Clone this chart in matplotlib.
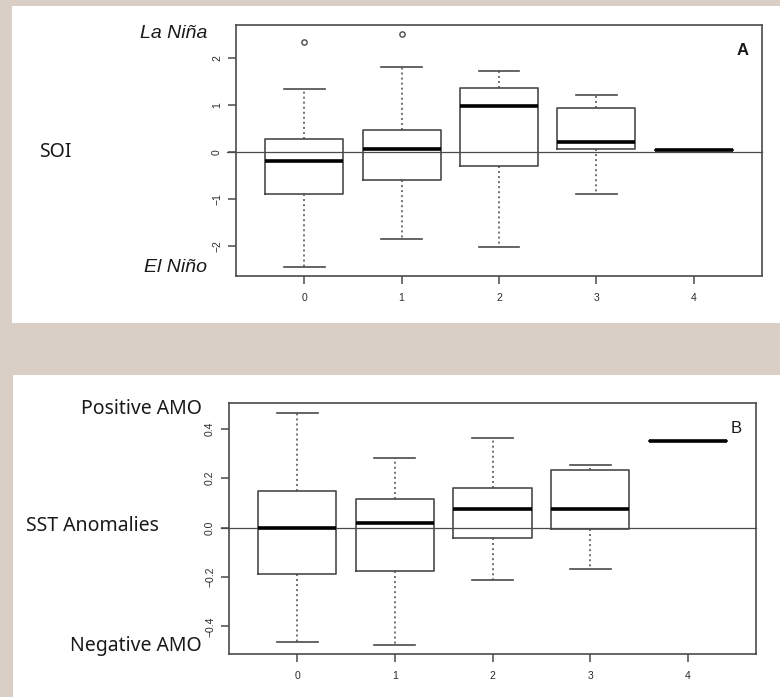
import numpy as np
import matplotlib
matplotlib.use("Agg")
import matplotlib.pyplot as plt
from matplotlib.patches import Rectangle

# Categories (x axis)
groups = [0, 1, 2, 3, 4]

# Panel A - SOI box statistics per group
soi_whislo = [-2.44, -1.85, -2.02, -0.89, 0.036]
soi_q1 = [-0.89, -0.60, -0.31, 0.057, 0.036]
soi_med = [-0.20, 0.064, 0.98, 0.21, 0.036]
soi_q3 = [0.28, 0.47, 1.35, 0.93, 0.036]
soi_whishi = [1.33, 1.81, 1.72, 1.21, 0.036]
soi_fliers = [[2.33], [2.50], [], [], []]
soi_yticks = [-2, -1, 0, 1, 2]
soi_yticklabels = ["\u22122", "\u22121", "0", "1", "2"]

# Panel B - SST anomalies (AMO) box statistics per group
sst_whislo = [-0.463, -0.476, -0.213, -0.168, 0.352]
sst_q1 = [-0.187, -0.175, -0.042, -0.005, 0.352]
sst_med = [0.0, 0.018, 0.074, 0.073, 0.352]
sst_q3 = [0.146, 0.115, 0.160, 0.234, 0.352]
sst_whishi = [0.464, 0.283, 0.362, 0.254, 0.352]
sst_fliers = [[], [], [], [], []]
sst_yticks = [-0.4, -0.2, 0.0, 0.2, 0.4]
sst_yticklabels = ["\u22120.4", "\u22120.2", "0.0", "0.2", "0.4"]

W, H = 780, 697
BG = "#d9cfc6"
LINE = "#4a4a4a"
TICKFONT = "Liberation Sans"


def fx(px):
    return px / W


def fy(py):
    return 1 - py / H


def make_stats(whislo, q1, med, q3, whishi, fliers):
    stats = []
    for i in range(len(groups)):
        stats.append(dict(whislo=whislo[i], q1=q1[i], med=med[i], q3=q3[i],
                          whishi=whishi[i], fliers=fliers[i], label=str(groups[i])))
    return stats


def draw_panel(ax, stats, yticks, yticklabels, ylim, zero_ext):
    ax.bxp(stats, positions=groups, widths=0.8, capwidths=0.42,
           patch_artist=False,
           boxprops=dict(color=LINE, linewidth=1.2),
           whiskerprops=dict(color=LINE, linewidth=1.1, linestyle=(0, (1.3, 2))),
           capprops=dict(color=LINE, linewidth=1.2),
           medianprops=dict(color="black", linewidth=2.6, solid_capstyle="butt"),
           flierprops=dict(marker="o", markersize=3.8, markerfacecolor="none",
                           markeredgecolor=LINE, markeredgewidth=1.0))
    ax.axhline(0, xmin=zero_ext, xmax=1, color=LINE, linewidth=0.9, clip_on=False, zorder=0)
    ax.set_xlim(-0.7, 4.7)
    ax.set_ylim(*ylim)
    ax.set_xticks(groups)
    ax.set_xticklabels([str(g) for g in groups], fontsize=7.5, color="#2a2a2a",
                       family=TICKFONT)
    ax.set_yticks(yticks)
    ax.set_yticklabels(yticklabels, fontsize=7.5, color="#2a2a2a", rotation=90,
                       va="center", family=TICKFONT)
    ax.tick_params(axis="both", direction="out", length=6, width=1.1, color=LINE)
    ax.tick_params(axis="x", pad=6)
    ax.tick_params(axis="y", pad=4)
    for s in ax.spines.values():
        s.set_color(LINE)
        s.set_linewidth(1.2)
    ax.set_facecolor("white")


fig = plt.figure(figsize=(W / 100, H / 100), dpi=100, facecolor=BG)

# white panel backgrounds (behind the axes)
fig.patches.append(Rectangle((fx(12), fy(323)), fx(780) - fx(12), fy(6) - fy(323),
                             transform=fig.transFigure, facecolor="white", edgecolor="none", zorder=-5))
fig.patches.append(Rectangle((fx(13), fy(697)), fx(780) - fx(13), fy(375) - fy(697),
                             transform=fig.transFigure, facecolor="white", edgecolor="none", zorder=-5))

# Panel A
axA = fig.add_axes([fx(236), fy(276), fx(762) - fx(236), fy(25) - fy(276)])
draw_panel(axA, make_stats(soi_whislo, soi_q1, soi_med, soi_q3, soi_whishi, soi_fliers),
           soi_yticks, soi_yticklabels, (-2.64, 2.70), -0.017)
axA.text(0.963, 0.9, "A", transform=axA.transAxes, fontsize=12, fontweight="bold",
         ha="center", va="center", family="Liberation Sans", color="#1a1a1a")

fig.text(fx(207), fy(33), "La Niña", ha="right", va="center", fontsize=14,
         style="italic", family="Liberation Sans", color="#1a1a1a")
fig.text(fx(207), fy(267), "El Niño", ha="right", va="center", fontsize=14,
         style="italic", family="Liberation Sans", color="#1a1a1a")
fig.text(fx(39), fy(152), "SOI", ha="left", va="center", fontsize=14,
         family="Noto Sans", color="#1a1a1a")

# Panel B
axB = fig.add_axes([fx(229), fy(654), fx(756) - fx(229), fy(403) - fy(654)])
draw_panel(axB, make_stats(sst_whislo, sst_q1, sst_med, sst_q3, sst_whishi, sst_fliers),
           sst_yticks, sst_yticklabels, (-0.512, 0.504), -0.0145)
axB.text(0.963, 0.9, "B", transform=axB.transAxes, fontsize=12,
         ha="center", va="center", family="Liberation Sans", color="#1a1a1a")

fig.text(fx(202), fy(409), "Positive AMO", ha="right", va="center", fontsize=14,
         family="Noto Sans", color="#1a1a1a")
fig.text(fx(26), fy(526), "SST Anomalies", ha="left", va="center", fontsize=14,
         family="Noto Sans", color="#1a1a1a")
fig.text(fx(202), fy(646), "Negative AMO", ha="right", va="center", fontsize=14,
         family="Noto Sans", color="#1a1a1a")

fig.savefig("out.png", dpi=100, facecolor=BG)
